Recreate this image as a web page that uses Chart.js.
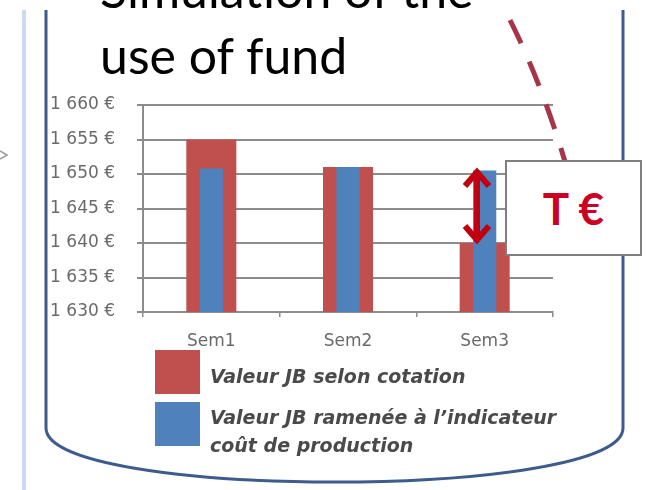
<!DOCTYPE html>
<html>
<head>
<meta charset="utf-8">
<script src="https://cdn.jsdelivr.net/npm/chart.js@4/dist/chart.umd.min.js"></script>
<style>
  html, body { margin: 0; padding: 0; background: #ffffff; }
  #wrap { position: relative; width: 646px; height: 490px; overflow: hidden; background: #fff; }
  #c { position: absolute; left: 0; top: 0; }
  #deco { position: absolute; left: 0; top: 0; }
  .title { position: absolute; left: 100px; font-family: Lato, "Open Sans", sans-serif; font-size: 50px; color: #000; white-space: nowrap; line-height: 1; }
  #tbox { position: absolute; left: 505px; top: 160px; width: 133px; height: 92px; border: 2px solid #7f7f7f; background: #fff;
          font-family: Lato, "Open Sans", sans-serif; font-weight: bold; font-size: 44px; color: #cc0020; text-align: center; line-height: 92px; }
  .lg-box { position: absolute; left: 155px; width: 45px; height: 44px; }
  .lg-txt { position: absolute; left: 210px; font-family: "DejaVu Sans", sans-serif; font-style: italic; font-weight: bold; font-size: 19px; color: #4a4a4a; white-space: nowrap; line-height: 28px; }
</style>
</head>
<body>
<div id="wrap">
  <canvas id="c" width="646" height="490"></canvas>
  <svg id="deco" width="646" height="490">
    <line x1="24" y1="10" x2="24" y2="490" stroke="#c9dbef" stroke-width="4"/>
    <path d="M46,10 V428 C46,500 623,500 623,428 V10" fill="none" stroke="#3d5b8c" stroke-width="3"/>
    <polyline points="0,151 7,155 0,159" fill="none" stroke="#9a9a9a" stroke-width="1.5"/>
    <path d="M510,20 Q542,84 566,165" fill="none" stroke="#a8344a" stroke-width="5" stroke-dasharray="26 20"/>
    <line x1="477" y1="172" x2="477" y2="240" stroke="#c00010" stroke-width="6"/>
    <polyline points="465,186 477,172 489,186" fill="none" stroke="#c00010" stroke-width="6"/>
    <polyline points="465,226 477,240 489,226" fill="none" stroke="#c00010" stroke-width="6"/>
  </svg>
  <div class="title" style="top:-36px;">Simulation of the</div>
  <div class="title" style="top:30px;">use of fund</div>
  <div id="tbox">T €</div>
  <div id="legend"></div>
</div>
<script>
const categories = ['Sem1', 'Sem2', 'Sem3'];
const seriesNames = ['Valeur JB selon cotation', 'Valeur JB ramenée à l\u2019indicateur coût de production'];
const seriesCotation = [1655, 1651, 1640];
const seriesIndicateur = [1650.8, 1651, 1650.5];
const yTickValues = [1630, 1635, 1640, 1645, 1650, 1655, 1660];
const yTickLabels = ['1 630 €', '1 635 €', '1 640 €', '1 645 €', '1 650 €', '1 655 €', '1 660 €'];
const colors = ['#c0504d', '#4f81bd'];

const tickFont = { family: 'DejaVu Sans', size: 17, weight: 'normal' };

const chart = new Chart(document.getElementById('c'), {
  type: 'bar',
  data: {
    labels: categories,
    datasets: [
      { label: seriesNames[0], data: seriesCotation, backgroundColor: colors[0], order: 2,
        grouped: false, categoryPercentage: 1, barPercentage: 0.366 },
      { label: seriesNames[1], data: seriesIndicateur, backgroundColor: colors[1], order: 1,
        grouped: false, categoryPercentage: 1, barPercentage: 0.17 }
    ]
  },
  options: {
    responsive: false,
    animation: false,
    devicePixelRatio: 1,
    layout: { padding: { left: 30, top: 105, right: 93, bottom: 138 } },
    plugins: { legend: { display: false }, tooltip: { enabled: false }, title: { display: false } },
    scales: {
      x: {
        afterFit: (s) => { s.height = 40; },
        grid: { display: true, drawOnChartArea: false, drawTicks: true, tickLength: 5, color: '#8c8c8c', lineWidth: 1.5, offset: true },
        border: { display: true, color: '#8c8c8c', width: 2 },
        ticks: { color: '#6a6a6a', font: tickFont, padding: 14 }
      },
      y: {
        min: 1630, max: 1660,
        afterFit: (s) => { s.width = 113; },
        afterBuildTicks: (s) => { s.ticks = yTickValues.map(v => ({ value: v })); },
        grid: { color: '#8c8c8c', lineWidth: 2, tickLength: 6 },
        border: { display: true, color: '#8c8c8c', width: 2 },
        ticks: { color: '#6a6a6a', font: tickFont, padding: 22,
                 callback: (v) => { const i = yTickValues.indexOf(v); return i >= 0 ? yTickLabels[i] : ''; } }
      }
    }
  }
});

// HTML legend built from dataset names/colors
const lg = document.getElementById('legend');
const boxTops = [350, 402];
lg.innerHTML =
  `<div class="lg-box" style="top:${boxTops[0]}px;background:${colors[0]}"></div>` +
  `<div class="lg-txt" style="top:362px">${seriesNames[0]}</div>` +
  `<div class="lg-box" style="top:${boxTops[1]}px;background:${colors[1]}"></div>` +
  `<div class="lg-txt" style="top:403px">Valeur JB ramenée à l\u2019indicateur<br>coût de production</div>`;
</script>
</body>
</html>
